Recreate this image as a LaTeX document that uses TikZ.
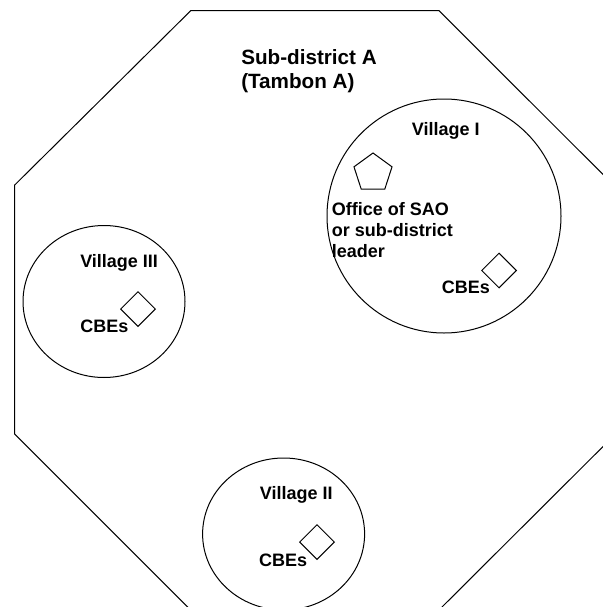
\documentclass[tikz,border=0pt]{standalone}
\usepackage{fontspec}
\setmainfont{Liberation Sans}
\usetikzlibrary{shapes.geometric}

\tikzset{
  village/.style={ellipse, draw, line width=0.75pt, inner sep=0pt},
  office/.style={regular polygon, regular polygon sides=5, draw, line width=0.75pt,
    inner sep=0pt, minimum size=30pt},
  cbe/.style={diamond, draw, line width=0.75pt, inner sep=0pt,
    minimum width=26.25pt, minimum height=26.25pt},
  lbl/.style={anchor=base west, inner sep=0pt, font=\bfseries\fontsize{13.5}{15.75}\selectfont, align=left}
}

\begin{document}
\begin{tikzpicture}[x=0.75pt, y=-0.75pt]
  \useasboundingbox (0,0) rectangle (603,607);

  % Tambon
  \begin{scope}
    \clip (0,0) rectangle (603,607);
    \draw[line width=0.75pt] (190.7,10.7) -- (439,10.7) -- (615.6,187) -- (615.6,434)
      -- (439,610) -- (190.7,610) -- (14.7,434) -- (14.7,185) -- cycle;
    \node[village, minimum width=175.5pt, minimum height=175.5pt] (vI) at (444,216) {};
    \node[village, minimum width=121.5pt, minimum height=114pt] (vII) at (283.6,534) {};
    \node[village, minimum width=121.5pt, minimum height=114pt] (vIII) at (104,301.5) {};
  \end{scope}
  % multi-line labels sit on the baseline of their last line
  \node[lbl, font=\bfseries\fontsize{15.5}{18}\selectfont] (tambon) at (241,88) {Sub-district A\\(Tambon A)};

  % Village I
  \node[lbl] (nameI) at (411.7,135) {Village I};
  \node[office] (sao) at (373,173) {};
  \node[lbl] (saotext) at (331.7,257) {Office of SAO\\or sub-district\\leader};
  \node[cbe] (cbeI) at (499,270.5) {};
  \node[lbl] (cbetxtI) at (441.7,293) {CBEs};

  % Village III
  \node[lbl] (nameIII) at (80,267) {Village III};
  \node[cbe] (cbeIII) at (138,309) {};
  \node[lbl] (cbetxtIII) at (80,332) {CBEs};

  % Village II
  \node[lbl] (nameII) at (259.6,499.5) {Village II};
  \node[cbe] (cbeII) at (317,542) {};
  \node[lbl] (cbetxtII) at (258.8,566) {CBEs};
\end{tikzpicture}
\end{document}
